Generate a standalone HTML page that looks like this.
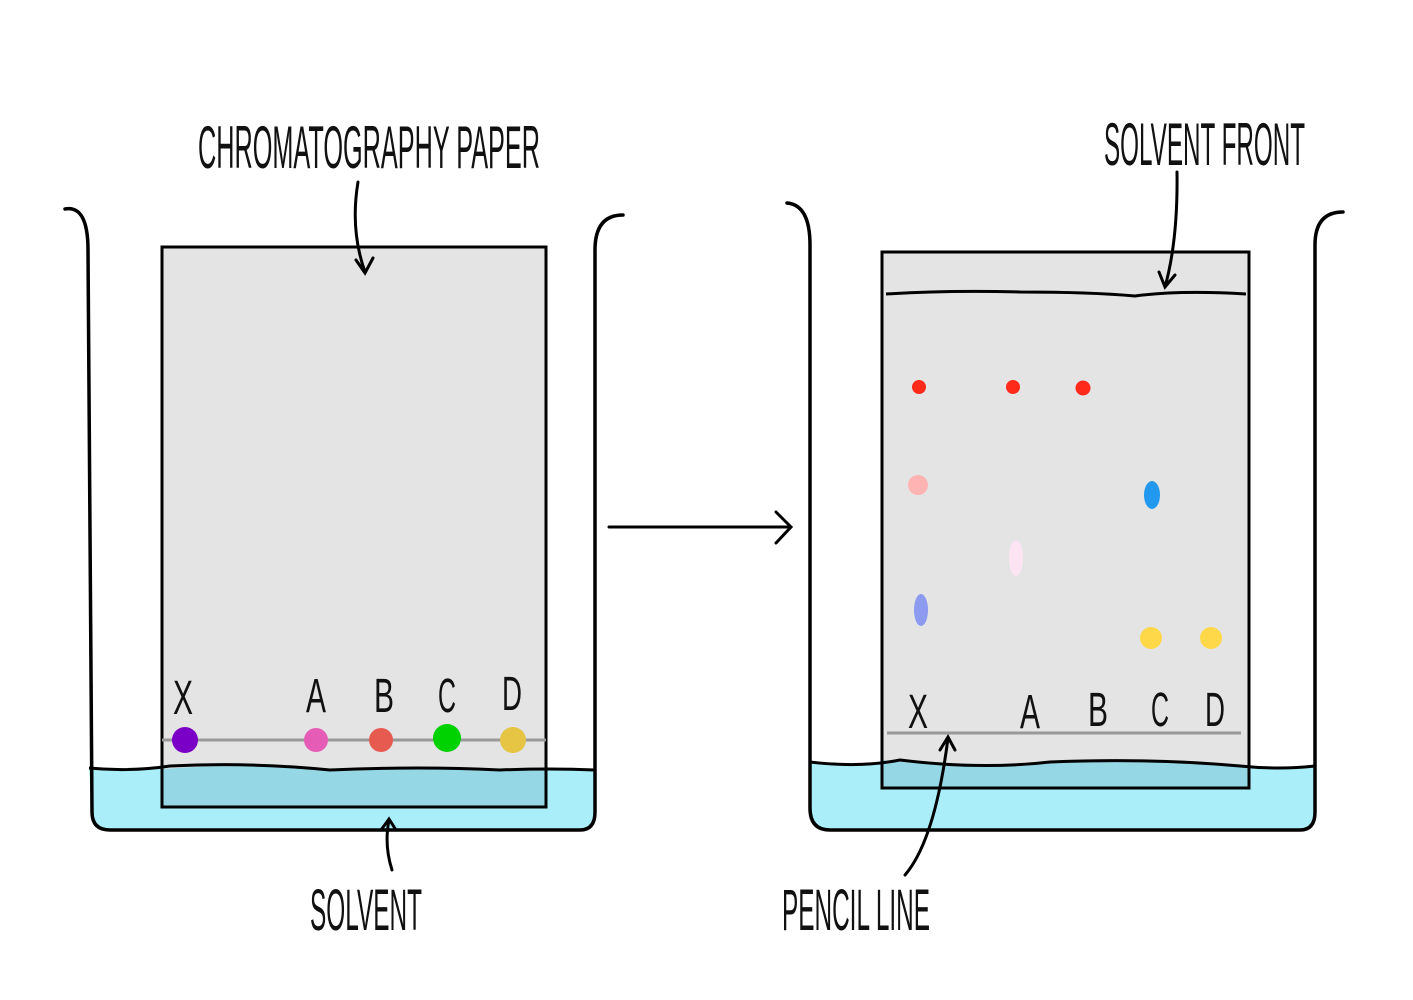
<!DOCTYPE html>
<html><head><meta charset="utf-8"><style>
html,body{margin:0;padding:0;background:#fff;}
svg{display:block;}
text{font-family:"Liberation Sans",sans-serif;fill:#111;}
</style></head><body>
<svg width="1413" height="1000" viewBox="0 0 1413 1000">
<!-- LEFT BEAKER -->
<g>
  <path d="M89,768 Q130,772 170,766 Q250,762 330,770 Q420,766 500,770 Q550,768 595,770 L595,815 Q595,830 580,830 L106,830 Q92,830 92,815 Z" fill="#aaeefa"/>
  <rect x="162" y="247" width="384" height="560" fill="#e4e4e4"/>
  <path d="M162,769 Q250,762 330,770 Q420,766 546,770 L546,807 L162,807 Z" fill="#96d7e5"/>
  <rect x="162" y="247" width="384" height="560" fill="none" stroke="#000" stroke-width="3"/>
  <path d="M89,768 Q130,772 170,766 Q250,762 330,770 Q420,766 500,770 Q550,768 595,770" fill="none" stroke="#000" stroke-width="3"/>
  <path d="M65,209 Q88,205 88,250 L92,812 Q92,830 110,830 L580,830 Q595,830 595,812 L595,250 Q595,215 623,215" fill="none" stroke="#000" stroke-width="3.5" stroke-linecap="round"/>
  <line x1="162" y1="740" x2="546" y2="740" stroke="#999" stroke-width="3"/>
  <circle cx="185" cy="740" r="13" fill="#7a00c8"/>
  <circle cx="316" cy="740" r="12" fill="#e45cb5"/>
  <circle cx="381" cy="740" r="12" fill="#e65a50"/>
  <circle cx="447" cy="738" r="14" fill="#00d100"/>
  <circle cx="513" cy="740" r="13" fill="#e6c444"/>
  <g font-size="48" text-anchor="middle">
    <text x="183" y="714" textLength="20" lengthAdjust="spacingAndGlyphs">X</text>
    <text x="316" y="712" textLength="20" lengthAdjust="spacingAndGlyphs">A</text>
    <text x="384" y="712" textLength="20" lengthAdjust="spacingAndGlyphs">B</text>
    <text x="447" y="712" textLength="18" lengthAdjust="spacingAndGlyphs">C</text>
    <text x="512" y="710" textLength="20" lengthAdjust="spacingAndGlyphs">D</text>
  </g>
  <text x="198" y="168" font-size="60" textLength="342" lengthAdjust="spacingAndGlyphs">CHROMATOGRAPHY PAPER</text>
  <path d="M358,182 Q350,230 365,272 M356,260 L365,273 L373,258" fill="none" stroke="#000" stroke-width="3" stroke-linecap="round"/>
  <text x="310" y="930" font-size="58" textLength="112" lengthAdjust="spacingAndGlyphs">SOLVENT</text>
  <path d="M392,870 Q384,845 389,820 M381,830 L389,819 L396,830" fill="none" stroke="#000" stroke-width="3" stroke-linecap="round"/>
</g>
<!-- MIDDLE ARROW -->
<path d="M609,527 L790,527 M776,512 L791,527 L776,543" fill="none" stroke="#000" stroke-width="3" stroke-linecap="round"/>
<!-- RIGHT BEAKER -->
<g>
  <path d="M810,762 Q860,768 900,760 Q980,770 1050,762 Q1150,758 1240,766 Q1280,770 1315,766 L1315,815 Q1315,830 1300,830 L828,830 Q810,830 810,812 Z" fill="#aaeefa"/>
  <rect x="882" y="252" width="367" height="536" fill="#e4e4e4"/>
  <path d="M882,760 Q980,770 1050,762 Q1150,758 1249,766 L1249,788 L882,788 Z" fill="#96d7e5"/>
  <rect x="882" y="252" width="367" height="536" fill="none" stroke="#000" stroke-width="3"/>
  <path d="M810,762 Q860,768 900,760 Q980,770 1050,762 Q1150,758 1240,766 Q1280,770 1315,766" fill="none" stroke="#000" stroke-width="3"/>
  <path d="M787,203 Q810,205 810,245 L810,808 Q810,830 830,830 L1300,830 Q1315,830 1315,812 L1315,245 Q1315,212 1343,212" fill="none" stroke="#000" stroke-width="3.5" stroke-linecap="round"/>
  <path d="M886,294 Q950,290 1020,292 Q1090,292 1135,296 Q1180,290 1246,294" fill="none" stroke="#000" stroke-width="3"/>
  <line x1="887" y1="733" x2="1241" y2="733" stroke="#999" stroke-width="3"/>
  <g font-size="48" text-anchor="middle">
    <text x="918" y="728" textLength="20" lengthAdjust="spacingAndGlyphs">X</text>
    <text x="1030" y="728" textLength="20" lengthAdjust="spacingAndGlyphs">A</text>
    <text x="1098" y="726" textLength="20" lengthAdjust="spacingAndGlyphs">B</text>
    <text x="1160" y="726" textLength="18" lengthAdjust="spacingAndGlyphs">C</text>
    <text x="1215" y="726" textLength="20" lengthAdjust="spacingAndGlyphs">D</text>
  </g>
  <circle cx="919" cy="387" r="7" fill="#ff2a1a"/>
  <circle cx="1013" cy="387" r="7" fill="#ff2a1a"/>
  <circle cx="1083" cy="388" r="7.5" fill="#ff2a1a"/>
  <circle cx="918" cy="485" r="10" fill="#ffb3b3"/>
  <ellipse cx="1152" cy="495" rx="8" ry="14" fill="#2299ee"/>
  <ellipse cx="1016" cy="558" rx="7" ry="18" fill="#fde4f2"/>
  <ellipse cx="921" cy="610" rx="7" ry="16" fill="#8c9af0"/>
  <circle cx="1151" cy="638" r="11" fill="#ffd84a"/>
  <circle cx="1211" cy="638" r="11" fill="#ffd84a"/>
  <text x="1104" y="165" font-size="60" textLength="201" lengthAdjust="spacingAndGlyphs">SOLVENT FRONT</text>
  <path d="M1177,172 Q1178,240 1165,287 M1159,272 L1165,287 L1175,275" fill="none" stroke="#000" stroke-width="3" stroke-linecap="round"/>
  <text x="782" y="930" font-size="58" textLength="148" lengthAdjust="spacingAndGlyphs">PENCIL LINE</text>
  <path d="M905,875 Q935,840 948,738 M940,750 L948,737 L955,750" fill="none" stroke="#000" stroke-width="3" stroke-linecap="round"/>
</g>
</svg>
</body></html>
